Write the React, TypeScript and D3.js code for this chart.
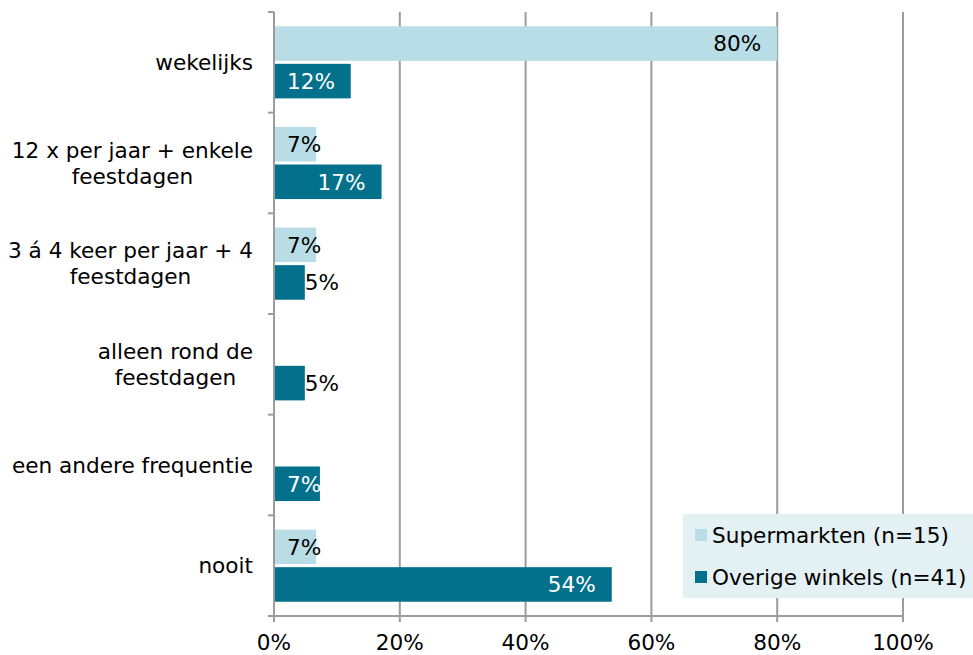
import React from 'react';
import * as d3 from 'd3';

const categories = [
  ['wekelijks'],
  ['12 x per jaar + enkele', 'feestdagen'],
  ['3 á 4 keer per jaar + 4', 'feestdagen'],
  ['alleen rond de', 'feestdagen'],
  ['een andere frequentie'],
  ['nooit'],
];
const seriesNames = ['Supermarkten (n=15)', 'Overige winkels (n=41)'];
const supermarkten = [80, 6.7, 6.7, 0, 0, 6.7];
const overige = [12.2, 17.1, 4.9, 4.9, 7.3, 53.7];
const xTicks = [0, 20, 40, 60, 80, 100];
const colors = ['#b8dde6', '#03718b'];
const labelColors = ['#000', '#fff'];

const W = 973;
const H = 655;
const x0 = 274;
const x1 = 903;
const yTop = 12;
const yBot = 616;
const font = 'DejaVu Sans, Verdana, sans-serif';
const fs = 21.6;

const ctx = document.createElement('canvas').getContext('2d');
const measure = (s: string) => {
  if (!ctx) return s.length * 0.62 * fs;
  ctx.font = `${fs}px "DejaVu Sans"`;
  return ctx.measureText(s).width;
};

export default function App() {
  const x = d3.scaleLinear().domain([0, 100]).range([x0, x1]);
  const y = d3.scaleBand<number>().domain(d3.range(categories.length)).range([yTop, yBot]);
  const inner = d3.scaleBand<number>().domain([0, 1]).range([0, y.bandwidth()])
    .paddingInner(0.08).paddingOuter(0.38);
  const values = [supermarkten, overige];
  const bounds = d3.range(categories.length + 1).map(i => yTop + i * y.step());

  return (
    <svg width={W} height={H} style={{ position: 'absolute', left: 0, top: 0, background: '#fff' }} fontFamily={font}>
      {/* grid */}
      {xTicks.slice(1).map(t => (
        <line key={t} x1={x(t)} x2={x(t)} y1={yTop} y2={yBot + 6} stroke="#9c9c9c" strokeWidth={2} />
      ))}
      {/* bars */}
      {values.map((vals, s) => vals.map((v, i) => {
        if (!v) return null;
        const by = (y(i) as number) + (inner(s) as number);
        const bh = inner.bandwidth();
        const bw = x(v) - x(0);
        const label = `${Math.round(v)}%`;
        const tw = measure(label);
        let tx = x(v) - 16 - tw;
        let fill = labelColors[s];
        if (bw < 36) { tx = x(v); fill = '#000'; }
        else if (tx < x0 + 13) tx = x0 + 13;
        return (
          <g key={`${s}-${i}`}>
            <rect x={x(0)} y={by} width={bw} height={bh} fill={colors[s]} />
            <text x={tx} y={by + bh / 2} dy="0.36em" fontSize={fs} fill={fill}>{label}</text>
          </g>
        );
      }))}
      {/* axes */}
      <line x1={x0} x2={x0} y1={yTop} y2={yBot} stroke="#9c9c9c" strokeWidth={2} />
      <line x1={x0 - 6} x2={x1} y1={yBot} y2={yBot} stroke="#9c9c9c" strokeWidth={2} />
      {bounds.map((b, i) => (
        <line key={i} x1={x0 - 6} x2={x0} y1={b} y2={b} stroke="#9c9c9c" strokeWidth={2} />
      ))}
      <line x1={x0} x2={x0} y1={yBot} y2={yBot + 6} stroke="#9c9c9c" strokeWidth={2} />
      {xTicks.map(t => (
        <text key={t} x={x(t)} y={650} fontSize={fs} textAnchor="middle" fill="#000">{`${t}%`}</text>
      ))}
      {categories.map((lines, i) => {
        const cy = (y(i) as number) + y.bandwidth() / 2;
        const lh = 26;
        const bw = Math.max(...lines.map(measure));
        const cx = 253 - bw / 2;
        return (
          <text key={i} fontSize={fs} textAnchor="middle" fill="#000">
            {lines.map((l, j) => (
              <tspan key={j} x={cx} y={cy + (j - (lines.length - 1) / 2) * lh} dy="0.36em">{l}</tspan>
            ))}
          </text>
        );
      })}
      {/* legend */}
      <rect x={683} y={514} width={290} height={84} fill="#e3f0f4" />
      {seriesNames.map((n, s) => (
        <g key={n}>
          <rect x={695} y={529 + s * 42} width={12} height={12} fill={colors[s]} />
          <text x={712} y={535 + s * 42} dy="0.36em" fontSize={fs} fill="#000">{n}</text>
        </g>
      ))}
    </svg>
  );
}
